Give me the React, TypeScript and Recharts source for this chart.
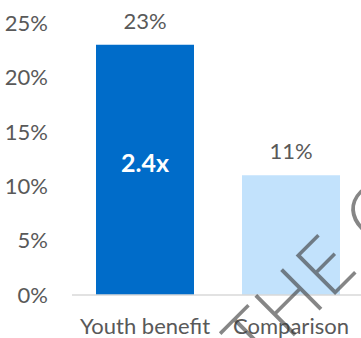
import React from 'react';
import { BarChart, Bar, XAxis, YAxis, Cell, LabelList } from 'recharts';

const categories = ['Youth benefit', 'Comparison'];
const shares = [23, 11];
const insideLabels = ['2.4x', ''];
const barColors = ['#006CC9', '#C2E2FC'];
const yTicks = [0, 5, 10, 15, 20, 25];

const data = categories.map((name, i) => ({
    name,
    value: shares[i],
    multiple: insideLabels[i],
}));

const FONT = 'Lato, "Open Sans", sans-serif';
const TEXT = '#595959';

const InsideLabel = (props: any) => {
    const { x, y, width, height, value } = props;
    if (!value) return null;
    return (
        <text
            x={x + width / 2}
            y={y + height * 0.47}
            textAnchor="middle"
            dominantBaseline="central"
            fill="#ffffff"
            fontSize={25}
            fontWeight={700}
            fontFamily={FONT}
        >
            {value}
        </text>
    );
};

const App = () => {
    return (
        <div
            style={{
                position: 'fixed',
                left: 0,
                top: 0,
                width: 361,
                height: 338,
                overflow: 'hidden',
                background: '#fff',
                fontFamily: FONT,
            }}
        >
            <BarChart
                width={380}
                height={338}
                data={data}
                margin={{ top: 23, right: 16, left: 0, bottom: 0 }}
                barCategoryGap={24}
            >
                <XAxis
                    dataKey="name"
                    height={43}
                    tickLine={false}
                    tickSize={0}
                    tickMargin={23}
                    axisLine={{ stroke: '#D9D9D9', strokeWidth: 1.5 }}
                    tick={{ fill: TEXT, fontSize: 22, fontFamily: FONT }}
                    interval={0}
                />
                <YAxis
                    width={72}
                    domain={[0, 25]}
                    ticks={yTicks}
                    axisLine={false}
                    tickLine={false}
                    tickSize={0}
                    tickMargin={24}
                    tickFormatter={(v) => `${v}%`}
                    tick={{ fill: TEXT, fontSize: 22, fontFamily: FONT }}
                />
                <Bar dataKey="value" isAnimationActive={false}>
                    {data.map((_, i) => (
                        <Cell key={`cell-${i}`} fill={barColors[i]} />
                    ))}
                    <LabelList
                        dataKey="value"
                        position="top"
                        offset={16}
                        formatter={(v: any) => `${v}%`}
                        fill={TEXT}
                        fontSize={22}
                        fontFamily={FONT}
                    />
                    <LabelList dataKey="multiple" content={<InsideLabel />} />
                </Bar>
            </BarChart>
            {/* watermark */}
            <svg
                width={361}
                height={338}
                style={{ position: 'absolute', left: 0, top: 0, pointerEvents: 'none' }}
            >
                <text
                    x={258}
                    y={372}
                    transform="rotate(-45 258 372)"
                    fontSize={78}
                    fontWeight={300}
                    fontFamily='"Open Sans", sans-serif'
                    fill="rgba(60,60,60,0.62)"
                    letterSpacing={2}
                >
                    THE C
                </text>
            </svg>
        </div>
    );
};

export default App;
